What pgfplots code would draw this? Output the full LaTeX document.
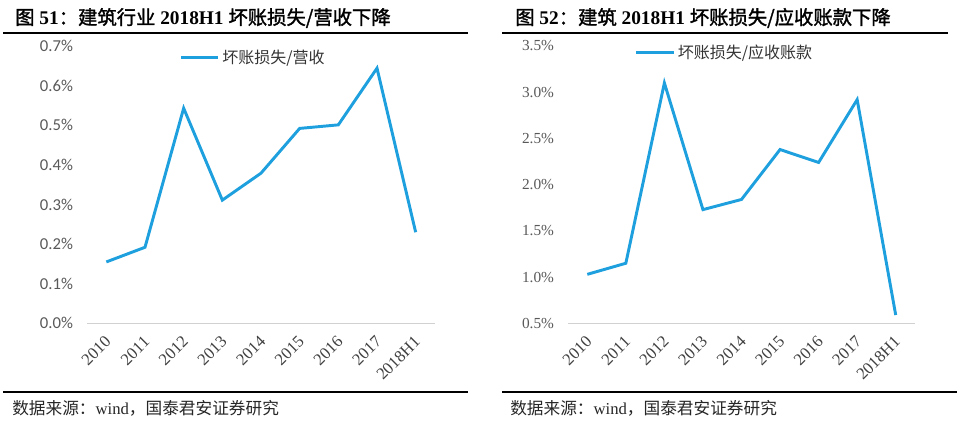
\documentclass[border=0pt]{standalone}
\usepackage{pgfplots}
\pgfplotsset{compat=1.18}
\usepackage{fontspec}
\setmainfont{Liberation Serif}
\newfontfamily\cjk{Noto Sans CJK SC}
\newfontfamily\cjkb{Noto Sans CJK SC}[FakeBold=1.5]
\newfontfamily\carlito{Carlito}

\definecolor{lineblue}{RGB}{30,160,222}
\definecolor{labelgray}{RGB}{89,89,89}

\pgfplotsset{
  panel/.style={
    scale only axis,
    height=208pt,
    anchor=south west,
    xmin=-0.5, xmax=8.5,
    xtick={0,...,8},
    xticklabels={2010,2011,2012,2013,2014,2015,2016,2017,2018H1},
    axis lines*=left,
    axis line style={-},
    y axis line style={draw=none},
    x axis line style={draw=black!18, line width=0.8pt},
    tick style={draw=none},
    major tick length=0pt,
    xticklabel style={font=\fontsize{12.5}{12.5}\selectfont, text=black!75,
      yshift=-11pt, xshift=2pt, rotate=45, anchor=east, inner sep=1pt},
    yticklabel style={text=labelgray, xshift=-7pt},
    legend style={draw=none, fill=none, anchor=center,
      font=\cjk\fontsize{12}{12}\selectfont, text=black!80},
    legend image code/.code={\draw[#1] (0pt,0pt) -- (28pt,0pt);},
    clip=false,
  },
}

\begin{document}
\begin{tikzpicture}[x=0.75pt, y=-0.75pt]
\useasboundingbox (0,0) rectangle (963,425);

% left panel
\node[anchor=west, inner sep=0pt, font=\fontsize{14.5}{14.5}\selectfont] at (15,18)
  {{\cjkb 图} {\bfseries 51}{\cjkb ：建筑行业} {\bfseries 2018H1} {\cjkb 坏账损失/营收下降}};
\draw[line width=1.1pt] (3,33) -- (468,33);
\draw[line width=1.1pt] (3,392) -- (468,392);
\node[anchor=west, inner sep=0pt, font=\fontsize{12.5}{12.5}\selectfont, text=black!85] at (12,408)
  {{\cjk 数据来源：}wind{\cjk ，国泰君安证券研究}};

\begin{axis}[panel,
  at={(65.25pt,-242.5pt)},
  width=261pt,
  ymin=0, ymax=0.7,
  ytick={0,0.1,0.2,0.3,0.4,0.5,0.6,0.7},
  yticklabels={0.0\%,0.1\%,0.2\%,0.3\%,0.4\%,0.5\%,0.6\%,0.7\%},
  yticklabel style={font=\carlito\fontsize{12.5}{12.5}\selectfont},
  legend style={at={(0.478,0.957)}},
]
  \addplot[lineblue, line width=2.2pt] coordinates {
    (0,0.155) (1,0.192) (2,0.543) (3,0.311) (4,0.379)
    (5,0.492) (6,0.501) (7,0.644) (8,0.230)};
  \addlegendentry{坏账损失/营收}
\end{axis}

% right panel
\node[anchor=west, inner sep=0pt, font=\fontsize{14.5}{14.5}\selectfont] at (515,18)
  {{\cjkb 图} {\bfseries 52}{\cjkb ：建筑} {\bfseries 2018H1} {\cjkb 坏账损失/应收账款下降}};
\draw[line width=1.1pt] (502,33) -- (948,33);
\draw[line width=1.1pt] (502,392) -- (957,392);
\node[anchor=west, inner sep=0pt, font=\fontsize{12.5}{12.5}\selectfont, text=black!85] at (510,408)
  {{\cjk 数据来源：}wind{\cjk ，国泰君安证券研究}};

\begin{axis}[panel,
  at={(426pt,-242.5pt)},
  width=260.25pt,
  ymin=0.5, ymax=3.5,
  ytick={0.5,1.0,1.5,2.0,2.5,3.0,3.5},
  yticklabels={0.5\%,1.0\%,1.5\%,2.0\%,2.5\%,3.0\%,3.5\%},
  yticklabel style={font=\fontsize{11.5}{12}\selectfont},
  legend style={at={(0.452,0.975)}},
]
  \addplot[lineblue, line width=2.2pt] coordinates {
    (0,1.03) (1,1.15) (2,3.10) (3,1.73) (4,1.84)
    (5,2.38) (6,2.24) (7,2.92) (8,0.59)};
  \addlegendentry{坏账损失/应收账款}
\end{axis}
\end{tikzpicture}
\end{document}
